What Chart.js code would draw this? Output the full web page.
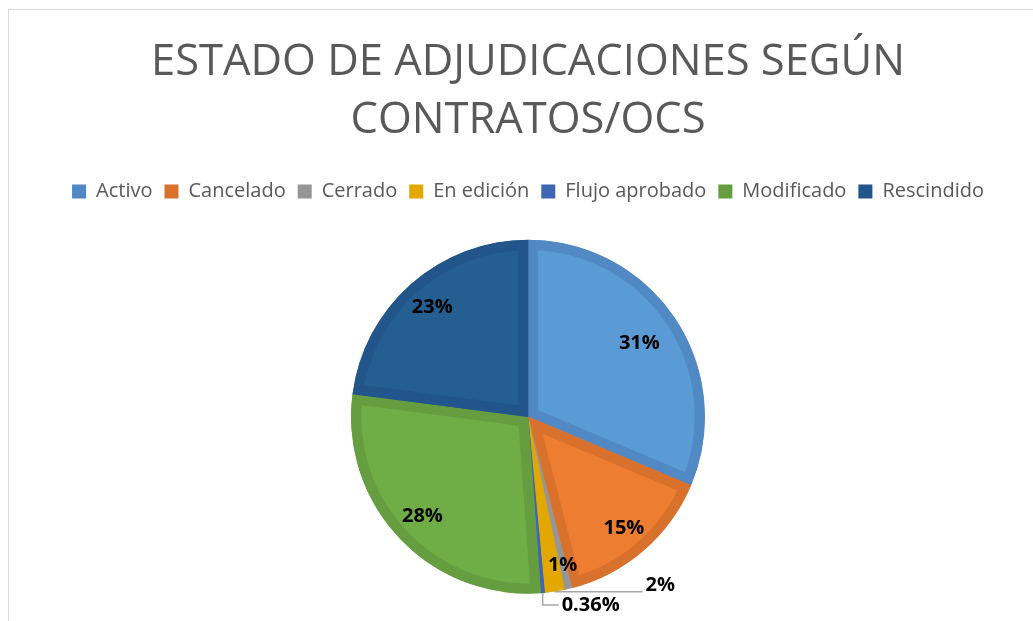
<!DOCTYPE html>
<html lang="es">
<head>
<meta charset="utf-8">
<title>Estado de adjudicaciones</title>
<script src="https://cdn.jsdelivr.net/npm/chart.js@4.4.1/dist/chart.umd.min.js"></script>
<style>
  html, body { margin: 0; padding: 0; background: #fff; }
  #wrap { position: relative; width: 1033px; height: 621px; overflow: hidden; }
  #frame {
    position: absolute; left: 8px; top: 9px; right: -10px; bottom: -10px;
    border-left: 1.5px solid #d9d9d9; border-top: 1.5px solid #d9d9d9;
  }
  canvas { position: absolute; left: 0; top: 0; }
</style>
</head>
<body>
<div id="wrap">
  <div id="frame"></div>
  <canvas id="pie" width="1033" height="621"></canvas>
</div>
<script>
'use strict';

// ---- Datos ----
const categorias = ['Activo', 'Cancelado', 'Cerrado', 'En edición', 'Flujo aprobado', 'Modificado', 'Rescindido'];
const porcentajes = [31.35, 14.65, 0.7, 1.8, 0.36, 28.2, 22.94];
const etiquetas = ['31%', '15%', '1%', '2%', '0.36%', '28%', '23%'];

// ---- Estilo ----
const rellenos = ['#5B9BD5', '#ED7D31', '#A5A5A5', '#EDB100', '#4472C4', '#70AD47', '#255E91'];
const bordes   = ['#5089C4', '#D8712C', '#969696', '#E2A800', '#3E66B4', '#659D40', '#22558A'];
// posición de cada etiqueta: fracción del radio sobre el ángulo medio;
// las que van fuera llevan línea guía (bajada, tramo horizontal, ajuste del texto)
const radioEtiqueta = [0.755, 0.83, 0.86, 1, 1, 0.82, 0.82];
const guias = [null, null, null,
  { down: 0, run: 88, dy: -6 },
  { down: 12, run: 16, dy: 0 },
  null, null];

const FONT = "'Open Sans', 'Noto Sans', sans-serif";

// ---- Etiquetas de datos ----
const etiquetasPlugin = {
  id: 'etiquetas',
  afterDatasetsDraw(chart) {
    const ctx = chart.ctx;
    const arcs = chart.getDatasetMeta(0).data;
    ctx.save();
    ctx.font = 'bold 20px ' + FONT;
    ctx.fillStyle = '#000';
    arcs.forEach((arc, i) => {
      const p = arc.getProps(['x', 'y', 'startAngle', 'endAngle', 'outerRadius'], true);
      const mid = (p.startAngle + p.endAngle) / 2;
      const g = guias[i];
      if (!g) {
        const r = p.outerRadius * radioEtiqueta[i];
        ctx.textAlign = 'center';
        ctx.textBaseline = 'middle';
        ctx.fillText(etiquetas[i], p.x + Math.cos(mid) * r, p.y + Math.sin(mid) * r);
        return;
      }
      const ex = p.x + Math.cos(mid) * p.outerRadius;
      const ey = p.y + Math.sin(mid) * p.outerRadius;
      ctx.strokeStyle = '#A6A6A6';
      ctx.lineWidth = 1.5;
      ctx.beginPath();
      ctx.moveTo(ex, ey);
      ctx.lineTo(ex, ey + g.down);
      ctx.lineTo(ex + g.run, ey + g.down);
      ctx.stroke();
      ctx.textAlign = 'left';
      ctx.textBaseline = 'middle';
      ctx.fillText(etiquetas[i], ex + g.run + 3, ey + g.down + g.dy);
    });
    ctx.restore();
  }
};

// deja un poco más de aire bajo la leyenda
const leyendaAire = {
  id: 'leyendaAire',
  beforeInit(chart) {
    const fit = chart.legend.fit;
    chart.legend.fit = function () {
      fit.call(this);
      this.height += 1;
    };
  }
};

new Chart(document.getElementById('pie').getContext('2d'), {
  type: 'pie',
  data: {
    labels: categorias,
    datasets: [{
      data: porcentajes,
      backgroundColor: rellenos,
      borderColor: bordes,
      borderWidth: 10,
      borderAlign: 'inner',
      hoverOffset: 0,
      radius: 177
    }]
  },
  options: {
    responsive: false,
    animation: false,
    layout: { padding: { left: 23, right: 0, top: 0, bottom: 0 } },
    plugins: {
      title: {
        display: true,
        text: ['ESTADO DE ADJUDICACIONES SEGÚN', 'CONTRATOS/OCS'],
        color: '#595959',
        font: { family: FONT, size: 43.5, weight: 'normal', lineHeight: 1.35 },
        padding: { top: 33, bottom: 19 }
      },
      legend: {
        display: true,
        position: 'top',
        labels: {
          color: '#595959',
          font: { family: FONT, size: 20 },
          boxWidth: 14,
          boxHeight: 14,
          padding: 12,
          generateLabels(chart) {
            const items = Chart.overrides.pie.plugins.legend.labels.generateLabels(chart);
            items.forEach((it, i) => {
              it.fillStyle = bordes[i];
              it.strokeStyle = bordes[i];
              it.lineWidth = 0;
            });
            return items;
          }
        }
      },
      tooltip: { enabled: false }
    }
  },
  plugins: [etiquetasPlugin, leyendaAire]
});
</script>
</body>
</html>
